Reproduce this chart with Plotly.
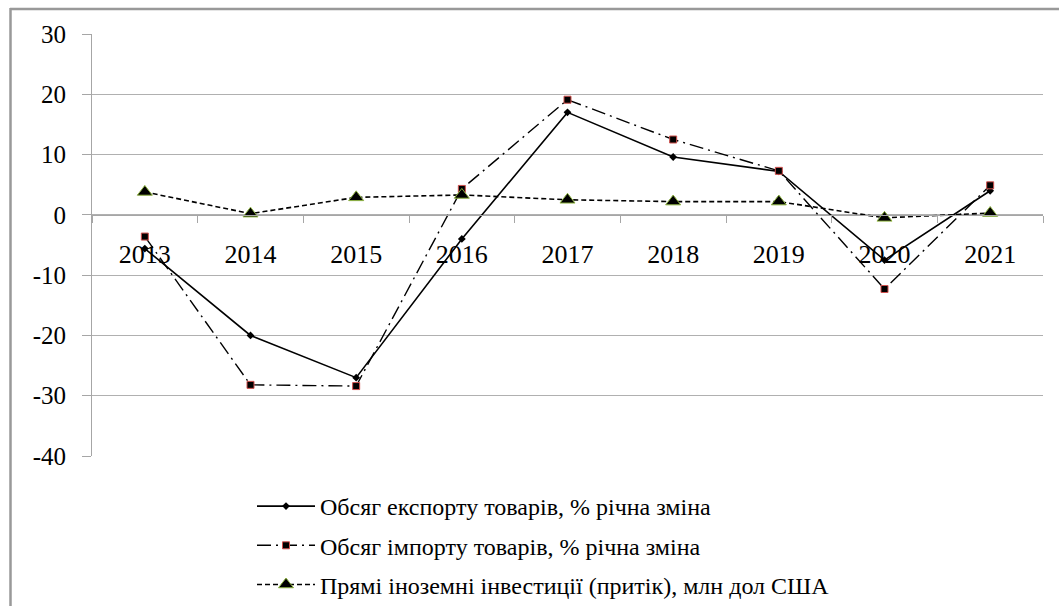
import plotly.graph_objects as go

years = ["2013", "2014", "2015", "2016", "2017", "2018", "2019", "2020", "2021"]
export_vals = [-5.6, -20.0, -27.0, -4.0, 17.0, 9.6, 7.2, -7.5, 4.0]
import_vals = [-3.6, -28.2, -28.4, 4.3, 19.1, 12.5, 7.3, -12.3, 4.9]
fdi_vals = [3.8, 0.2, 2.9, 3.3, 2.5, 2.2, 2.2, -0.5, 0.3]

names = [
    "Обсяг експорту товарів, % річна зміна",
    "Обсяг імпорту товарів, % річна зміна",
    "Прямі іноземні інвестиції (притік), млн дол США",
]
y_ticks = [30, 20, 10, 0, -10, -20, -30, -40]

FONT = "Times New Roman"

fig = go.Figure()
fig.add_trace(go.Scatter(
    x=years, y=export_vals, name=names[0], mode="lines+markers",
    legendgroup="a",
    line=dict(color="black", width=1.6),
    marker=dict(symbol="diamond", size=6, color="black"),
))
fig.add_trace(go.Scatter(
    x=years, y=import_vals, name=names[1], mode="lines+markers",
    legendgroup="b",
    line=dict(color="black", width=1.4, dash="14px,5px,2px,5px"),
    marker=dict(symbol="square", size=7, color="black",
                line=dict(color="#d0504d", width=1)),
))
fig.add_trace(go.Scatter(
    x=years, y=fdi_vals, name=names[2], mode="lines+markers",
    legendgroup="c",
    line=dict(color="black", width=1.6, dash="5px,3px"),
    marker=dict(symbol="triangle-up", size=13, color="black",
                line=dict(color="#8db33f", width=1)),
))

# plot area pixel geometry
L, R, T, B = 92, 1043, 34, 456
W, H = 1059, 606
pw, ph = R - L, B - T

def px(x):
    return (x - L) / pw

def py(y):
    return (B - y) / ph

fig.update_layout(
    width=W, height=H,
    margin=dict(l=L, r=W - R, t=T, b=H - B, autoexpand=False),
    paper_bgcolor="white", plot_bgcolor="white",
    font=dict(family=FONT, color="black", size=24),
    showlegend=True,
    legend=dict(
        x=px(252), y=py(484), xanchor="left", yanchor="top",
        font=dict(family=FONT, size=24), itemwidth=58,
        bgcolor="rgba(0,0,0,0)", tracegroupgap=5,
        traceorder="grouped",
    ),
    xaxis=dict(
        type="category", anchor="free", position=40 / 70,
        showgrid=False, showline=True, linecolor="#a6a6a6", linewidth=1,
        ticks="outside", tickson="boundaries", ticklen=7, tickcolor="#a6a6a6",
        tickfont=dict(family=FONT, size=26), ticklabelstandoff=16,
        range=[-0.5, 8.5], zeroline=False,
    ),
    yaxis=dict(
        range=[-40, 30], tickvals=y_ticks, ticktext=[str(v) for v in y_ticks],
        showgrid=True, gridcolor="#b0b0b0", gridwidth=1,
        showline=True, linecolor="#a6a6a6", linewidth=1,
        ticks="outside", ticklen=9, tickcolor="#a6a6a6",
        tickfont=dict(family=FONT, size=25), ticklabelstandoff=11,
        zeroline=False,
    ),
    shapes=[
        dict(type="line", xref="paper", yref="paper",
             x0=px(10), x1=px(1062), y0=py(9), y1=py(9),
             line=dict(color="#999999", width=2.5)),
        dict(type="line", xref="paper", yref="paper",
             x0=px(10.5), x1=px(10.5), y0=py(8), y1=py(610),
             line=dict(color="#999999", width=2.5)),
    ],
)

fig.write_html(
    "out.html",
    config={"displayModeBar": False},
    post_script="document.body.style.margin='0';document.body.style.overflow='hidden';",
)
